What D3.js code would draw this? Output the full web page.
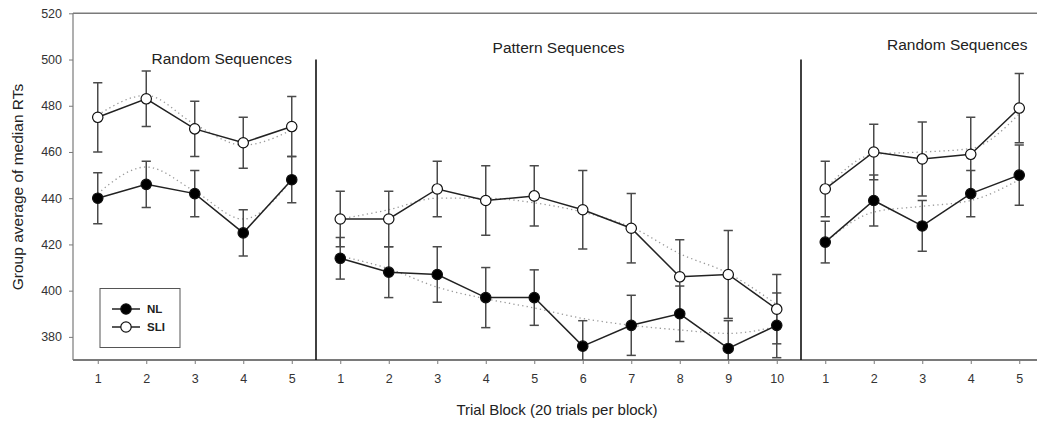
<!DOCTYPE html>
<html>
<head>
<meta charset="utf-8">
<script src="https://cdn.jsdelivr.net/npm/d3@7/dist/d3.min.js"></script>
<style>
  html, body { margin: 0; padding: 0; background: #fff; }
  svg { display: block; font-family: "Liberation Sans", Arial, Helvetica, sans-serif; }
</style>
</head>
<body>
<svg id="chart" width="1037" height="423"></svg>
<script>
// ---- data ----
const sectionNames = ["Random Sequences", "Pattern Sequences", "Random Sequences"];
const sectionSizes = [5, 10, 5];
const blockLabels = ["1","2","3","4","5","1","2","3","4","5","6","7","8","9","10","1","2","3","4","5"];
const yTicks = [380, 400, 420, 440, 460, 480, 500, 520];

const nlMean  = [440, 446, 442, 425, 448,  414, 408, 407, 397, 397, 376, 385, 390, 375, 385,  421, 439, 428, 442, 450];
const nlErr   = [11, 10, 10, 10, 10,  9, 11, 12, 13, 12, 11, 13, 12, 12, 14,  9, 11, 11, 10, 13];
const sliMean = [475, 483, 470, 464, 471,  431, 431, 444, 439, 441, 435, 427, 406, 407, 392,  444, 460, 457, 459, 479];
const sliErr  = [15, 12, 12, 11, 13,  12, 12, 12, 15, 13, 17, 15, 16, 19, 15,  12, 12, 16, 16, 15];
const nlTrend  = [442, 453.5, 443, 431, 448,  415, 409.5, 401.5, 396.5, 392.5, 388, 385, 383, 381.5, 384.5,  421, 434, 436.5, 439, 448];
const sliTrend = [476, 484.5, 472, 463, 469.5,  431, 435, 440, 440, 438, 434, 427.5, 416, 407.5, 394,  444, 459, 460, 461.5, 476.5];

const seriesNames = ["NL", "SLI"];

// ---- layout ----
const svg = d3.select("#chart");
const W = 1037, H = 423;
const x = d3.scaleLinear().domain([0.5, 20.5]).range([73.5, 1043.5]);
const y = d3.scaleLinear().domain([370, 520]).range([360, 13.3]);

const pos = blockLabels.map((_, i) => i + 1);
const sectionStart = [];
{ let acc = 0; sectionSizes.forEach(n => { sectionStart.push(acc); acc += n; }); }

svg.append("defs").append("clipPath").attr("id", "plot")
  .append("rect").attr("x", x(0.5)).attr("y", y(520) - 2)
  .attr("width", W - x(0.5)).attr("height", y(370) - y(520) + 2);

// axes
const axisColor = "#7a7a7a";
const yAxis = svg.append("g").attr("transform", `translate(${x(0.5) - 0.5},0)`)
  .call(d3.axisLeft(y).tickValues(yTicks).tickSize(4).tickPadding(7).tickFormat(d3.format("d")));
yAxis.select(".domain").remove();
yAxis.selectAll(".tick line").attr("stroke", axisColor).attr("stroke-width", 1);
yAxis.selectAll(".tick text").attr("fill", "#333").style("font-size", "12.5px");

const xAxis = svg.append("g").attr("transform", `translate(0,${y(370)})`)
  .call(d3.axisBottom(x).tickValues(pos).tickSize(4).tickPadding(10).tickFormat((d, i) => blockLabels[i]));
xAxis.select(".domain").remove();
xAxis.selectAll(".tick line").attr("stroke", axisColor).attr("stroke-width", 1);
xAxis.selectAll(".tick text").attr("fill", "#333").style("font-size", "12.5px");

// frame lines: left, bottom, top
svg.append("line").attr("x1", x(0.5) - 0.5).attr("x2", x(0.5) - 0.5).attr("y1", y(520)).attr("y2", y(370))
  .attr("stroke", axisColor).attr("stroke-width", 1.2);
svg.append("line").attr("x1", x(0.5) - 0.5).attr("x2", W).attr("y1", y(370)).attr("y2", y(370))
  .attr("stroke", axisColor).attr("stroke-width", 1.8);
svg.append("line").attr("x1", x(0.5) - 0.5).attr("x2", W).attr("y1", y(520)).attr("y2", y(520))
  .attr("stroke", axisColor).attr("stroke-width", 1.4);

// section separators
sectionStart.slice(1).forEach(s => {
  svg.append("line").attr("x1", x(s + 0.5)).attr("x2", x(s + 0.5))
    .attr("y1", y(500)).attr("y2", y(370)).attr("stroke", "#111").attr("stroke-width", 1.6);
});

// section titles
const titleX = [x(3) + 27, (x(sectionStart[1] + 1) + x(sectionStart[1] + 10)) / 2, x(18) + 35];
const titleY = [64, 53, 50];
sectionNames.forEach((name, s) => {
  svg.append("text").attr("x", titleX[s]).attr("y", titleY[s]).attr("text-anchor", "middle")
    .attr("fill", "#222").style("font-size", "15.5px").text(name);
});

// axis titles
svg.append("text").attr("x", 557).attr("y", 415).attr("text-anchor", "middle")
  .attr("fill", "#222").style("font-size", "15px").text("Trial Block (20 trials per block)");
svg.append("text").attr("transform", "translate(23,187) rotate(-90)").attr("text-anchor", "middle")
  .attr("fill", "#222").style("font-size", "15.5px").text("Group average of median RTs");

const plot = svg.append("g").attr("clip-path", "url(#plot)");

const series = [
  { name: seriesNames[0], mean: nlMean, err: nlErr, trend: nlTrend, fill: "#000" },
  { name: seriesNames[1], mean: sliMean, err: sliErr, trend: sliTrend, fill: "#fff" }
];

const lineGen = d3.line().x(d => x(d.p)).y(d => y(d.v));

// dotted trend lines
series.forEach(sr => {
  sectionSizes.forEach((n, s) => {
    const pts = [];
    for (let i = sectionStart[s]; i < sectionStart[s] + n; i++) pts.push({ p: pos[i], v: sr.trend[i] });
    plot.append("path").attr("d", d3.line().x(d => x(d.p)).y(d => y(d.v)).curve(d3.curveMonotoneX)(pts))
      .attr("fill", "none").attr("stroke", "#9a9a9a").attr("stroke-width", 1.3)
      .attr("stroke-dasharray", "1.3,3.2");
  });
});

// error bars
series.forEach(sr => {
  const g = plot.append("g").attr("stroke", "#4a4a4a").attr("stroke-width", 1.5);
  sr.mean.forEach((m, i) => {
    const cx = x(pos[i]);
    g.append("line").attr("x1", cx).attr("x2", cx).attr("y1", y(m + sr.err[i])).attr("y2", y(m - sr.err[i]));
    g.append("line").attr("x1", cx - 4.6).attr("x2", cx + 4.6).attr("y1", y(m + sr.err[i])).attr("y2", y(m + sr.err[i]));
    g.append("line").attr("x1", cx - 4.6).attr("x2", cx + 4.6).attr("y1", y(m - sr.err[i])).attr("y2", y(m - sr.err[i]));
  });
});

// solid lines
series.forEach(sr => {
  sectionSizes.forEach((n, s) => {
    const pts = [];
    for (let i = sectionStart[s]; i < sectionStart[s] + n; i++) pts.push({ p: pos[i], v: sr.mean[i] });
    plot.append("path").attr("d", lineGen(pts)).attr("fill", "none")
      .attr("stroke", "#222").attr("stroke-width", 1.5);
  });
});

// markers
series.forEach(sr => {
  plot.append("g").selectAll("circle").data(sr.mean).join("circle")
    .attr("cx", (d, i) => x(pos[i])).attr("cy", d => y(d)).attr("r", 5.2)
    .attr("fill", sr.fill).attr("stroke", "#111").attr("stroke-width", 1.2);
});

// legend
const lg = svg.append("g");
lg.append("rect").attr("x", 100).attr("y", 288.5).attr("width", 80).attr("height", 59)
  .attr("fill", "#fff").attr("stroke", "#555").attr("stroke-width", 1);
series.forEach((sr, k) => {
  const ly = 309 + k * 18;
  lg.append("line").attr("x1", 112).attr("x2", 140).attr("y1", ly).attr("y2", ly)
    .attr("stroke", "#222").attr("stroke-width", 1.5);
  lg.append("circle").attr("cx", 126).attr("cy", ly).attr("r", 5.2)
    .attr("fill", sr.fill).attr("stroke", "#111").attr("stroke-width", 1.2);
  lg.append("text").attr("x", 147).attr("y", ly + 4).attr("fill", "#222")
    .style("font-size", "11.5px").style("font-weight", "bold").text(sr.name);
});
</script>
</body>
</html>
